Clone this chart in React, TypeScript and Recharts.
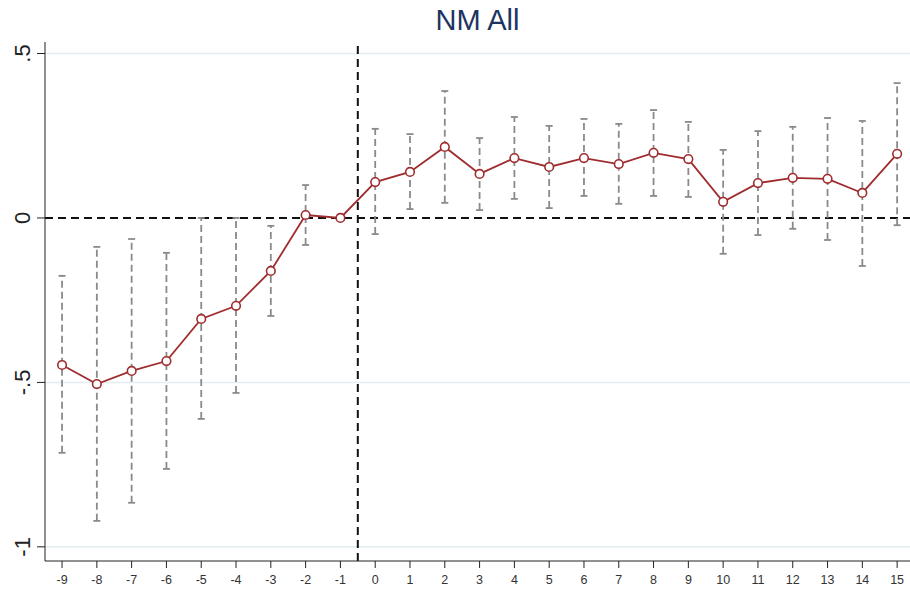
import {
	ComposedChart,
	ErrorBar,
	Line,
	ReferenceLine,
	XAxis,
	YAxis,
} from 'recharts';

const periods = [-9, -8, -7, -6, -5, -4, -3, -2, -1, 0, 1, 2, 3, 4, 5, 6, 7, 8, 9, 10, 11, 12, 13, 14, 15];
const coef = [
	-0.447, -0.505, -0.465, -0.435, -0.307, -0.267, -0.161, 0.009, 0, 0.109, 0.14, 0.216, 0.134,
	0.182, 0.155, 0.182, 0.164, 0.198, 0.179, 0.049, 0.106, 0.122, 0.119, 0.076, 0.195,
];
const ciLow = [
	-0.714, -0.921, -0.866, -0.763, -0.611, -0.532, -0.298, -0.082, null, -0.049, 0.027, 0.046,
	0.024, 0.058, 0.03, 0.067, 0.043, 0.067, 0.064, -0.109, -0.052, -0.033, -0.067, -0.146, -0.022,
];
const ciHigh = [
	-0.176, -0.088, -0.064, -0.106, 0.0, 0.0, -0.024, 0.1, null, 0.271, 0.255, 0.386, 0.243,
	0.307, 0.28, 0.301, 0.286, 0.328, 0.292, 0.207, 0.264, 0.277, 0.304, 0.295, 0.41,
];
const yTicks = [-1, -0.5, 0, 0.5];
const gridValues = [-1, -0.5, 0.5];
const yTickLabels: Record<string, string> = { '-1': '-1', '-0.5': '-.5', '0': '0', '0.5': '.5' };

const data = periods.map((p, i) => ({
	period: p,
	coef: coef[i],
	err:
		ciLow[i] == null || ciHigh[i] == null
			? [0, 0]
			: [coef[i] - (ciLow[i] as number), (ciHigh[i] as number) - coef[i]],
}));

if (typeof document !== 'undefined') document.body.style.margin = '0';

const FONT = '"Liberation Sans", Arial, sans-serif';
const RED = '#9f2d2f';

function YTick({ y, payload }: any) {
	return (
		<text
			x={30}
			y={y}
			transform={`rotate(-90, 30, ${y})`}
			textAnchor="middle"
			fontSize={22}
			fill="#222"
			fontFamily={FONT}
		>
			{yTickLabels[String(payload.value)]}
		</text>
	);
}

export default function App() {
	return (
		<div style={{ width: 910, height: 594, background: '#fff', position: 'relative' }}>
			<div
				style={{
					position: 'absolute',
					left: 45,
					width: 865,
					top: 4,
					textAlign: 'center',
					fontFamily: FONT,
					fontSize: 29,
					color: '#1c3461',
				}}
			>
				NM All
			</div>
			<ComposedChart
				width={910}
				height={594}
				data={data}
				margin={{ top: 42, right: 0, bottom: 0, left: 0 }}
			>
				<XAxis
					dataKey="period"
					type="number"
					domain={[-9.49, 15.37]}
					ticks={periods}
					allowDataOverflow
					height={33}
					tickSize={7}
					tickMargin={7}
					stroke="#222"
					tick={{ fill: '#333', fontSize: 12.5, fontFamily: FONT }}
					tickLine={{ stroke: '#222' }}
					interval={0}
				/>
				<YAxis
					type="number"
					domain={[-1.043, 0.535]}
					ticks={yTicks}
					allowDataOverflow
					width={45}
					tickSize={8}
					stroke="#222"
					tick={<YTick />}
					tickLine={{ stroke: '#222' }}
				/>
				{gridValues.map((v) => (
					<ReferenceLine key={v} y={v} stroke="#e2eef1" strokeWidth={1.5} />
				))}
				<ReferenceLine y={0} stroke="#111" strokeWidth={2} strokeDasharray="8 5" />
				<ReferenceLine x={-0.5} stroke="#111" strokeWidth={2} strokeDasharray="8 5" />
				<Line
					dataKey="coef"
					stroke="none"
					dot={false}
					activeDot={false}
					isAnimationActive={false}
					legendType="none"
				>
					<ErrorBar
						dataKey="err"
						width={3.5}
						stroke="#8a8a8a"
						strokeWidth={1.8}
						strokeDasharray="7 4"
					/>
				</Line>
				<Line
					dataKey="coef"
					stroke={RED}
					strokeWidth={1.8}
					dot={{ r: 4.3, stroke: RED, strokeWidth: 1.6, fill: '#fff' }}
					activeDot={false}
					isAnimationActive={false}
				/>
			</ComposedChart>
		</div>
	);
}
